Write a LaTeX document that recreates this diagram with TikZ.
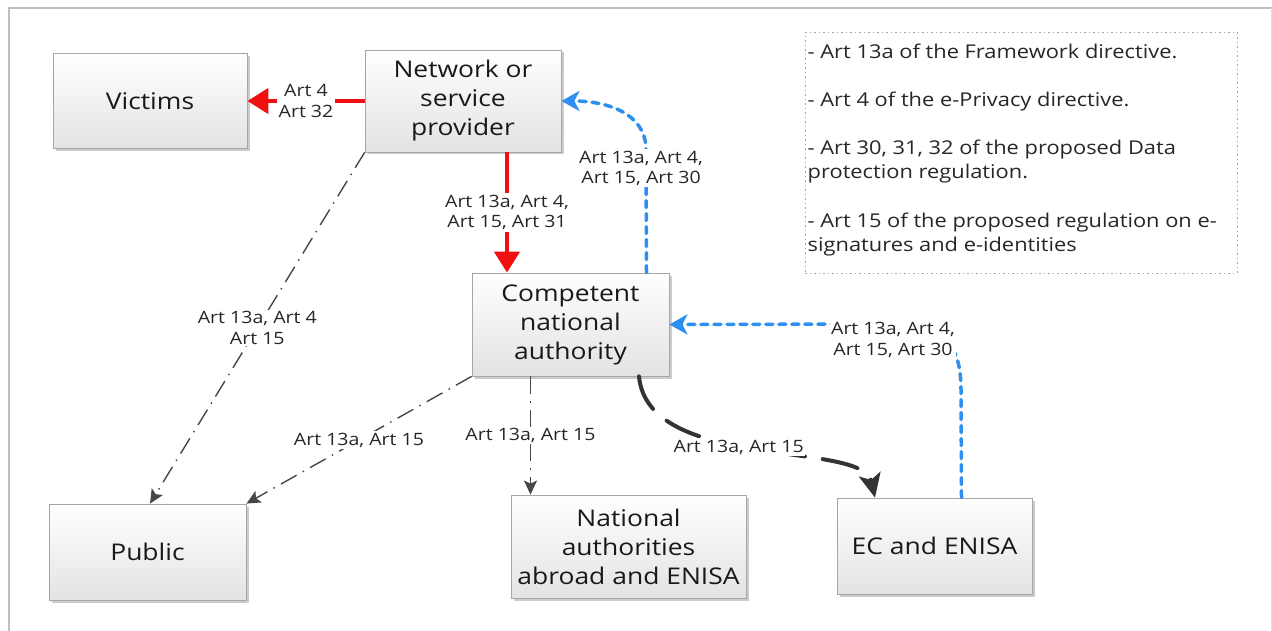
\documentclass[tikz,border=0pt]{standalone}
\usepackage{fontspec}
\setmainfont[FakeStretch=1.15]{Open Sans}
\usetikzlibrary{arrows.meta,shadows,calc}
\definecolor{bluec}{HTML}{2E8FF0}
\definecolor{redc}{HTML}{F01010}
\definecolor{darkc}{HTML}{333333}
\begin{document}
\begin{tikzpicture}[x=1pt,y=-1pt,
  box/.style={draw=black!35, line width=0.8pt, top color=white, bottom color=black!11,
    drop shadow={shadow xshift=2.5pt, shadow yshift=-2.5pt, fill=black!40, opacity=0.5},
    align=center, font=\fontsize{23}{29}\selectfont, text=black!90, inner sep=2pt},
  lbl/.style={fill=white, align=center, font=\fontsize{17}{20.5}\selectfont, inner sep=1.5pt, text=black!85},
  redarr/.style={draw=redc, line width=4.5pt, -{Triangle[length=21pt,width=25pt]}},
  bluearr/.style={draw=bluec, line width=3.5pt, dash pattern=on 7pt off 6pt, line cap=round,
    -{Stealth[length=18pt,width=20pt,inset=5pt]}},
  darkarr/.style={draw=darkc, line width=4pt, dash pattern=on 36pt off 18pt, line cap=round,
    -{Stealth[length=24pt,width=22pt,inset=6pt]}},
  dd/.style={draw=darkc!90, line width=1.4pt, dash pattern=on 18pt off 7pt on 1.5pt off 7pt,
    -{Stealth[length=14pt,width=13pt,inset=3pt]}},
]
\useasboundingbox (0,0) rectangle (1272,631);
% outer frame
\draw[black!25, line width=1.5pt] (9,631) -- (9,8) -- (1272,8);
\draw[black!12, line width=1pt] (1271,8) -- (1271,631);

% nodes
\node[box, minimum width=194pt, minimum height=95pt] (vic) at (150,101) {Victims};
\node[box, minimum width=196pt, minimum height=102pt] (net) at (463,101) {Network or\\service\\provider};
\node[box, minimum width=197pt, minimum height=103pt] (cna) at (570.5,324.5) {Competent\\national\\authority};
\node[box, minimum width=197pt, minimum height=96pt] (pub) at (147.5,552) {Public};
\node[box, minimum width=235pt, minimum height=103pt] (nat) at (628.5,546.5) {National\\authorities\\abroad and ENISA};
\node[box, minimum width=195pt, minimum height=96pt] (ec) at (934.5,546) {EC and ENISA};

% legend
\node[draw=black!35, line width=1pt, dash pattern=on 1.5pt off 3pt, minimum width=432pt, minimum height=240pt] (legend) at (1021,153) {};
\node[anchor=north west, align=left, font=\fontsize{19}{24}\selectfont, inner sep=0pt, text=black!85] (legtext)
  at ([xshift=3pt,yshift=-11pt]legend.north west)
  {- Art 13a of the Framework directive.\\[24.5pt]
   - Art 4 of the e-Privacy directive.\\[24pt]
   - Art 30, 31, 32 of the proposed Data\\protection regulation.\\[24.5pt]
   - Art 15 of the proposed regulation on e-\\signatures and e-identities};

% red connectors
\draw[redarr] (net.west) -- (vic.east) node[lbl, midway] (l1) {Art 4\\Art 32};
\draw[redarr] ([xshift=44pt]net.south) -- ([xshift=-63.5pt]cna.north) node[lbl, midway] (l2) {Art 13a, Art 4,\\Art 15, Art 31};

% blue connectors
\draw[bluearr] ([xshift=76pt]cna.north) -- (646,150) node[lbl, pos=0.85, xshift=-5pt] (l3) {Art 13a, Art 4,\\Art 15, Art 30}
  .. controls (646,112) and (605,101) .. (net.east);
\draw[bluearr] ([xshift=27pt]ec.north) -- (961,390) .. controls (961,345) and (945,324) .. (890,324) -- (cna.east);
\node[lbl] (l4) at (893,340) {Art 13a, Art 4,\\Art 15, Art 30};

% dark curved
\draw[darkarr] ([xshift=68.5pt]cna.south) .. controls (648,472) and (862,440) .. ([xshift=-59.5pt]ec.north)
  node[lbl, pos=0.45] (l5) {Art 13a, Art 15};

% dash-dot
\draw[dd] (net.south west) -- (pub.north -| 150,0) node[lbl, midway] (l6) {Art 13a, Art 4\\Art 15};
\draw[dd] (cna.south west) -- (pub.north east) node[lbl, midway] (l7) {Art 13a, Art 15};
\draw[dd] ([xshift=-40pt]cna.south) -- ([xshift=-98pt]nat.north) node[lbl, midway] (l8) {Art 13a, Art 15};
\end{tikzpicture}
\end{document}
